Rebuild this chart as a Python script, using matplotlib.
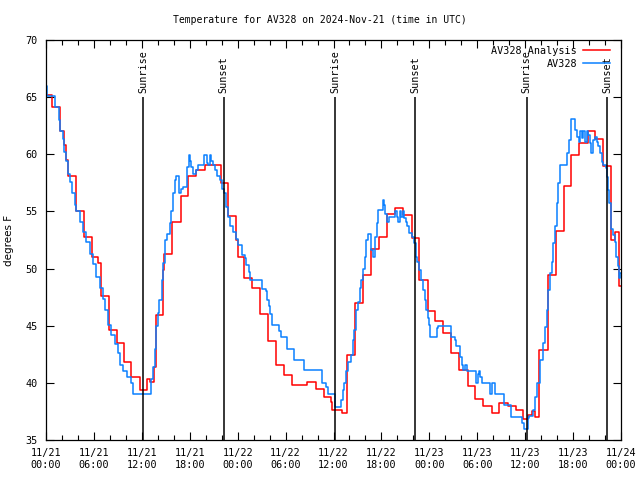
import matplotlib
matplotlib.use("Agg")
import matplotlib.pyplot as plt
import matplotlib.dates as mdates
import pandas as pd

# hours after 2024-11-21 00:00 UTC, temperature in F
obs_hours = [0.0, 0.1, 1.15, 1.6, 1.8, 2.1, 2.3, 2.5, 2.7, 3.0, 3.3, 3.6, 3.8, 4.2, 4.6, 5.0, 5.5, 5.9,
             6.3, 6.7, 7.1, 7.4, 7.8, 8.2, 8.6, 9.0, 9.3, 9.7, 10.2, 10.6, 10.9, 13.2, 13.4, 13.6, 13.8,
             14.0, 14.2, 14.5, 14.7, 14.95, 15.2, 15.5, 15.7, 15.9, 16.1, 16.3, 16.6, 16.75, 16.95, 17.15,
             17.7, 17.85, 18.0, 18.2, 18.4, 18.8, 19.0, 19.8, 20.1, 20.3, 20.5, 20.7, 20.9, 21.2, 21.45,
             21.75, 22.0, 22.3, 22.6, 22.8, 23.0, 23.4, 23.8, 24.0, 24.6, 24.9, 25.1, 25.4, 25.6, 27.1,
             27.5, 27.7, 27.9, 28.1, 28.35, 29.2, 29.4, 30.2, 31.05, 32.3, 34.5, 35.0, 35.3, 36.2, 36.9,
             37.15, 37.3, 37.55, 37.85, 38.15, 38.4, 38.55, 38.8, 39.1, 39.3, 39.5, 39.75, 39.95, 40.1,
             40.3, 40.65, 41.0, 41.2, 41.4, 41.6, 42.15, 42.3, 42.45, 42.65, 42.9, 43.7, 43.9, 44.1, 44.3,
             44.5, 44.65, 44.8, 45.1, 45.25, 45.5, 45.8, 46.1, 46.3, 46.5, 46.75, 46.9, 47.15, 47.4, 47.6,
             47.8, 48.0, 48.1, 48.9, 49.1, 50.7, 51.2, 51.4, 51.85, 52.05, 52.25, 52.45, 52.7, 53.8, 54.05,
             54.2, 54.35, 54.55, 55.6, 55.8, 56.2, 57.3, 58.2, 59.55, 59.8, 60.35, 60.5, 61.0, 61.2, 61.45,
             61.8, 61.9, 62.2, 62.5, 62.7, 62.9, 63.1, 63.3, 63.5, 63.7, 63.95, 64.15, 64.35, 65.2, 65.5,
             65.7, 66.25, 66.5, 66.7, 66.9, 67.1, 67.3, 67.5, 67.7, 67.9, 68.1, 68.3, 68.5, 68.75, 68.95,
             69.15, 69.4, 69.6, 69.8, 70.1, 70.3, 70.4, 70.5, 70.7, 70.8, 71.0, 71.2, 71.4, 71.6, 71.8,
             71.9, 72.0]
obs_temp = [66.0, 65.1, 64.1, 63.0, 62.0, 61.3, 60.2, 59.4, 58.3, 57.6, 56.6, 55.6, 55.0, 54.1, 53.2, 52.3,
            51.3, 50.4, 49.3, 48.3, 47.3, 46.4, 45.1, 44.2, 43.4, 42.6, 41.6, 41.0, 40.5, 40.0, 39.0, 40.3,
            41.4, 43.0, 45.0, 46.1, 47.25, 49.0, 50.5, 52.5, 53.0, 53.95, 55.0, 56.6, 57.75, 58.1, 56.6,
            56.6, 57.0, 57.1, 58.9, 59.9, 59.4, 58.9, 58.3, 58.6, 59.1, 59.9, 59.2, 59.1, 59.9, 59.4,
            59.1, 58.6, 58.1, 57.75, 57.0, 56.6, 55.4, 54.5, 53.7, 53.2, 52.55, 52.05, 51.2, 50.9, 50.3,
            49.7, 49.0, 48.2, 48.0, 47.25, 46.7, 46.0, 45.1, 44.5, 44.0, 43.0, 42.0, 41.1, 40.0, 39.65,
            39.0, 37.9, 38.5, 39.4, 39.95, 41.0, 41.85, 42.4, 43.75, 44.6, 46.4, 47.1, 48.3, 49.0, 50.0,
            51.0, 52.5, 53.0, 51.6, 51.0, 52.8, 54.0, 55.1, 56.0, 55.6, 54.8, 54.1, 54.5, 55.0, 54.5,
            54.1, 55.0, 54.5, 55.0, 54.4, 54.1, 53.7, 53.1, 52.8, 52.2, 51.0, 50.6, 49.9, 49.0, 48.1,
            47.25, 46.4, 45.65, 45.1, 44.0, 44.8, 45.0, 44.0, 43.75, 43.2, 42.3, 41.6, 41.1, 41.6, 41.0,
            40.0, 40.8, 41.0, 40.5, 39.95, 39.0, 39.95, 39.0, 38.05, 37.05, 36.5, 35.95, 36.9, 37.1,
            37.6, 38.8, 39.95, 41.4, 42.0, 43.5, 44.9, 46.4, 48.1, 49.6, 50.6, 52.2, 53.7, 55.7, 57.45,
            59.1, 60.1, 61.25, 63.05, 62.1, 61.5, 61.1, 62.0, 61.4, 62.0, 61.1, 62.0, 61.7, 60.95, 60.1,
            61.25, 61.5, 61.1, 60.7, 60.1, 59.35, 59.1, 58.8, 58.05, 56.9, 55.7, 54.5, 53.5, 52.9, 52.35,
            51.0, 50.2, 49.15, 49.6, 49.6]

ana_hours = [0.0, 0.8, 1.75, 2.25, 2.55, 2.8, 3.75, 4.8, 5.8, 6.5, 6.9, 7.85, 8.85, 9.8, 10.7, 11.8, 12.7,
             13.0, 13.5, 13.8, 14.6, 14.8, 15.8, 16.85, 17.8, 18.8, 19.9, 21.9, 22.8, 23.75, 24.0, 24.8,
             25.85, 26.8, 27.8, 28.85, 29.8, 30.85, 32.7, 33.8, 34.8, 35.65, 35.85, 37.1, 37.7, 38.7,
             39.7, 40.7, 41.7, 42.65, 43.7, 44.75, 45.8, 46.75, 47.8, 48.7, 49.75, 50.7, 51.75, 52.8,
             53.7, 54.75, 55.8, 56.7, 57.8, 58.8, 59.7, 60.3, 60.8, 61.2, 61.75, 62.8, 63.8, 64.8, 65.8,
             66.8, 67.9, 68.75, 69.8, 70.75, 71.3, 71.7, 72.0]
ana_temp = [65.2, 64.1, 62.0, 60.8, 59.5, 58.1, 55.0, 52.8, 51.0, 50.5, 47.6, 44.6, 43.5, 41.85, 40.5, 39.4,
            40.3, 40.1, 41.4, 45.9, 49.9, 51.3, 54.1, 56.35, 58.1, 58.6, 59.1, 57.5, 54.6, 52.5, 51.0,
            49.2, 48.3, 46.0, 43.7, 41.6, 40.7, 39.8, 40.05, 39.5, 38.8, 38.35, 37.6, 37.4, 42.4, 47.0,
            49.4, 51.7, 52.8, 54.8, 55.3, 54.7, 52.7, 49.0, 46.3, 45.4, 44.4, 42.6, 41.1, 39.7, 38.6,
            38.0, 37.4, 38.2, 38.0, 37.6, 36.8, 37.2, 37.5, 37.05, 42.9, 49.4, 53.3, 57.25, 59.95, 60.95,
            62.0, 61.3, 59.0, 52.5, 53.2, 48.5, 48.5]

sun_times = ["2024-11-21 12:10", "2024-11-21 22:15", "2024-11-22 12:11",
             "2024-11-22 22:14", "2024-11-23 12:12", "2024-11-23 22:14"]
sun_labels = ["Sunrise", "Sunset", "Sunrise", "Sunset", "Sunrise", "Sunset"]

start = pd.Timestamp("2024-11-21 00:00")
obs_t = start + pd.to_timedelta(obs_hours, unit="h")
ana_t = start + pd.to_timedelta(ana_hours, unit="h")

mono = "DejaVu Sans Mono"
fig = plt.figure(figsize=(6.4, 4.8), dpi=100)
ax = fig.add_axes([46 / 640, 40 / 480, 575 / 640, 400 / 480])

ax.plot(ana_t, ana_temp, drawstyle="steps-post", color="#ff0000", lw=1.1, label="AV328 Analysis")
ax.plot(obs_t, obs_temp, drawstyle="steps-post", color="#0a80ff", lw=1.1, label="AV328")

for t, lab in zip(sun_times, sun_labels):
    t = pd.Timestamp(t)
    ax.vlines(t, 35, 65, color="black", lw=1.1)
    ax.text(t, 65.4, lab, rotation=90, ha="center", va="bottom", fontsize=7.3, family=mono)

ax.set_xlim(start, start + pd.Timedelta(hours=72))
ax.set_ylim(35, 70)
ax.set_yticks(range(35, 71, 5))
ax.xaxis.set_major_locator(mdates.HourLocator(byhour=[0, 6, 12, 18]))
ax.xaxis.set_minor_locator(mdates.HourLocator(interval=2))
ax.xaxis.set_major_formatter(mdates.DateFormatter("%m/%d\n%H:%M"))
ax.tick_params(which="both", direction="in", top=True, right=True, labelsize=7.3, pad=6)
ax.tick_params(which="major", length=6, width=0.8)
ax.tick_params(which="minor", length=3.5, width=0.8)
for lab in ax.get_xticklabels() + ax.get_yticklabels():
    lab.set_family(mono)
for s in ax.spines.values():
    s.set_linewidth(0.9)

ax.set_ylabel("degrees F", fontsize=7.5, labelpad=8)

# legend sits over the last "Sunrise" label, as in the original
ax.legend(loc="upper right", bbox_to_anchor=(0.994, 1.003), frameon=False, markerfirst=False,
          handlelength=2.7, handletextpad=0.6, labelspacing=0.3, borderaxespad=0.3,
          prop={"family": mono, "size": 7.3})

fig.text(0.5, 1 - 20 / 480, "Temperature for AV328 on 2024-Nov-21 (time in UTC)",
         ha="center", va="center", fontsize=7, family=mono)

fig.savefig("out.png", dpi=100)
